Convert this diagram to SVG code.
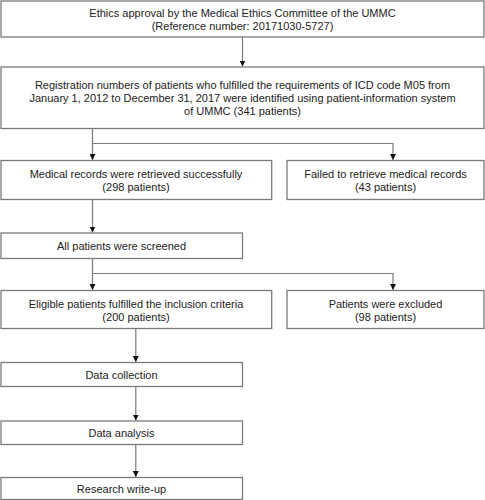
<svg xmlns="http://www.w3.org/2000/svg" width="485" height="500" viewBox="0 0 485 500">
<defs>
<style>
.box{fill:#fff;stroke:#7a7a7a;stroke-width:1.3}
.ln{fill:none;stroke:#7a7a7a;stroke-width:1.2}
text{font-family:"Liberation Sans",Arial,sans-serif;font-size:11px;fill:#222;text-anchor:middle}
</style>
<marker id="ah" markerWidth="7" markerHeight="6" refX="6" refY="3" orient="auto" markerUnits="userSpaceOnUse">
<path d="M0,0 L6,3 L0,6 Z" fill="#111"/>
</marker>
</defs>
<rect width="485" height="500" fill="#fff"/>
<g id="connectors">
<line class="ln" x1="242.5" y1="37" x2="242.5" y2="66.5" marker-end="url(#ah)"/>
<polyline class="ln" points="92.5,128.5 92.5,143.5 393,143.5 393,160" marker-end="url(#ah)"/>
<line class="ln" x1="92.5" y1="143.5" x2="92.5" y2="160" marker-end="url(#ah)"/>
<line class="ln" x1="92.5" y1="199.5" x2="92.5" y2="232.5" marker-end="url(#ah)"/>
<polyline class="ln" points="92.5,258.5 92.5,273.5 393,273.5 393,290" marker-end="url(#ah)"/>
<line class="ln" x1="92.5" y1="273.5" x2="92.5" y2="290" marker-end="url(#ah)"/>
<line class="ln" x1="135.8" y1="328.5" x2="135.8" y2="362" marker-end="url(#ah)"/>
<line class="ln" x1="135.8" y1="386.5" x2="135.8" y2="420.5" marker-end="url(#ah)"/>
<line class="ln" x1="135.8" y1="444.5" x2="135.8" y2="477" marker-end="url(#ah)"/>
</g>
<g id="ethics">
<rect class="box" x="1" y="1" width="483" height="36"/>
<text x="242.5" y="17">Ethics approval by the Medical Ethics Committee of the UMMC</text>
<text x="242.5" y="30">(Reference number: 20171030-5727)</text>
</g>
<g id="registration">
<rect class="box" x="1" y="67" width="483" height="61.5"/>
<text x="242.5" y="89">Registration numbers of patients who fulfilled the requirements of ICD code M05 from</text>
<text x="242.5" y="102">January 1, 2012 to December 31, 2017 were identified using patient-information system</text>
<text x="242.5" y="115">of UMMC (341 patients)</text>
</g>
<g id="retrieved">
<rect class="box" x="1" y="160.5" width="270.7" height="39"/>
<text x="136" y="178">Medical records were retrieved successfully</text>
<text x="136" y="191">(298 patients)</text>
</g>
<g id="failed">
<rect class="box" x="287" y="160.5" width="197" height="39"/>
<text x="385.5" y="178">Failed to retrieve medical records</text>
<text x="385.5" y="191">(43 patients)</text>
</g>
<g id="screened">
<rect class="box" x="1" y="233" width="241.5" height="25.5"/>
<text x="121.5" y="250">All patients were screened</text>
</g>
<g id="eligible">
<rect class="box" x="1" y="290.5" width="270.7" height="38"/>
<text x="136" y="308">Eligible patients fulfilled the inclusion criteria</text>
<text x="136" y="321">(200 patients)</text>
</g>
<g id="excluded">
<rect class="box" x="287" y="290.5" width="197" height="38"/>
<text x="385.5" y="308">Patients were excluded</text>
<text x="385.5" y="321">(98 patients)</text>
</g>
<g id="collection">
<rect class="box" x="1" y="362.5" width="241.5" height="24"/>
<text x="121.5" y="379">Data collection</text>
</g>
<g id="analysis">
<rect class="box" x="1" y="421" width="241.5" height="23.5"/>
<text x="121.5" y="437">Data analysis</text>
</g>
<g id="writeup">
<rect class="box" x="1" y="477.5" width="241.5" height="22"/>
<text x="121.5" y="492.5">Research write-up</text>
</g>
</svg>
